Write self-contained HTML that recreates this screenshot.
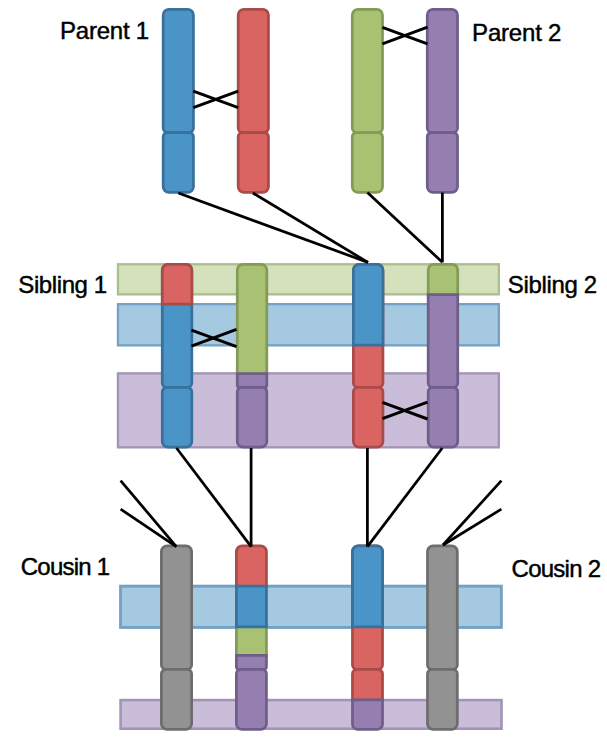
<!DOCTYPE html>
<html><head><meta charset="utf-8">
<style>
html,body{margin:0;padding:0;background:#fff;}
body{width:607px;height:740px;position:relative;overflow:hidden;}
svg{position:absolute;left:0;top:0;}
.t{position:absolute;font-family:"Liberation Sans",sans-serif;font-size:24px;color:#000;white-space:nowrap;line-height:1;-webkit-text-stroke:0.45px #000;}
</style></head><body>
<svg width="607" height="740" viewBox="0 0 607 740">
<rect x="117.95" y="264.25" width="380.90" height="30.10" fill="#D4E1BC" stroke="#AABF8B" stroke-width="2.3"/>
<rect x="117.95" y="304.15" width="380.90" height="41.20" fill="#A6C9E2" stroke="#74A1C4" stroke-width="2.3"/>
<rect x="117.95" y="373.35" width="380.90" height="74.00" fill="#CABDD9" stroke="#A393B6" stroke-width="2.3"/>
<rect x="120.55" y="586.15" width="380.80" height="41.30" fill="#A6C9E2" stroke="#74A1C4" stroke-width="2.9"/>
<rect x="120.60" y="700.10" width="380.90" height="28.60" fill="#CABDD9" stroke="#A393B6" stroke-width="2.6"/>
<path d="M163.18,15.12 A5.75,5.75 0 0 1 168.93,9.38 L187.68,9.38 A5.75,5.75 0 0 1 193.43,15.12 L193.43,128.20 A4.30,4.30 0 0 1 189.12,132.50 L167.48,132.50 A4.30,4.30 0 0 1 163.18,128.20 Z" fill="#4B94C7" stroke="#37719C" stroke-width="2.75"/>
<path d="M163.18,136.80 A4.30,4.30 0 0 1 167.48,132.50 L189.12,132.50 A4.30,4.30 0 0 1 193.43,136.80 L193.43,186.68 A5.75,5.75 0 0 1 187.68,192.43 L168.93,192.43 A5.75,5.75 0 0 1 163.18,186.68 Z" fill="#4B94C7" stroke="#37719C" stroke-width="2.75"/>
<path d="M238.18,15.12 A5.75,5.75 0 0 1 243.93,9.38 L262.68,9.38 A5.75,5.75 0 0 1 268.43,15.12 L268.43,128.20 A4.30,4.30 0 0 1 264.12,132.50 L242.48,132.50 A4.30,4.30 0 0 1 238.18,128.20 Z" fill="#DA6461" stroke="#A94B49" stroke-width="2.75"/>
<path d="M238.18,136.80 A4.30,4.30 0 0 1 242.48,132.50 L264.12,132.50 A4.30,4.30 0 0 1 268.43,136.80 L268.43,186.68 A5.75,5.75 0 0 1 262.68,192.43 L243.93,192.43 A5.75,5.75 0 0 1 238.18,186.68 Z" fill="#DA6461" stroke="#A94B49" stroke-width="2.75"/>
<path d="M352.27,15.12 A5.75,5.75 0 0 1 358.02,9.38 L376.77,9.38 A5.75,5.75 0 0 1 382.52,15.12 L382.52,128.20 A4.30,4.30 0 0 1 378.22,132.50 L356.57,132.50 A4.30,4.30 0 0 1 352.27,128.20 Z" fill="#A8C173" stroke="#849B57" stroke-width="2.75"/>
<path d="M352.27,136.80 A4.30,4.30 0 0 1 356.57,132.50 L378.22,132.50 A4.30,4.30 0 0 1 382.52,136.80 L382.52,186.68 A5.75,5.75 0 0 1 376.77,192.43 L358.02,192.43 A5.75,5.75 0 0 1 352.27,186.68 Z" fill="#A8C173" stroke="#849B57" stroke-width="2.75"/>
<path d="M427.27,15.12 A5.75,5.75 0 0 1 433.02,9.38 L451.77,9.38 A5.75,5.75 0 0 1 457.52,15.12 L457.52,128.20 A4.30,4.30 0 0 1 453.22,132.50 L431.57,132.50 A4.30,4.30 0 0 1 427.27,128.20 Z" fill="#957EB0" stroke="#6F5E8A" stroke-width="2.75"/>
<path d="M427.27,136.80 A4.30,4.30 0 0 1 431.57,132.50 L453.22,132.50 A4.30,4.30 0 0 1 457.52,136.80 L457.52,186.68 A5.75,5.75 0 0 1 451.77,192.43 L433.02,192.43 A5.75,5.75 0 0 1 427.27,186.68 Z" fill="#957EB0" stroke="#6F5E8A" stroke-width="2.75"/>
<path d="M162.28,270.12 A5.75,5.75 0 0 1 168.03,264.38 L186.07,264.38 A5.75,5.75 0 0 1 191.82,270.12 L191.82,383.10 A4.30,4.30 0 0 1 187.52,387.40 L166.58,387.40 A4.30,4.30 0 0 1 162.28,383.10 Z" fill="#4B94C7" stroke="#37719C" stroke-width="2.75"/>
<path d="M162.28,270.12 A5.75,5.75 0 0 1 168.03,264.38 L186.07,264.38 A5.75,5.75 0 0 1 191.82,270.12 L191.82,304.02 L162.28,304.02 Z" fill="#DA6461" stroke="#A94B49" stroke-width="2.75"/>
<path d="M162.28,391.70 A4.30,4.30 0 0 1 166.58,387.40 L187.52,387.40 A4.30,4.30 0 0 1 191.82,391.70 L191.82,441.48 A5.75,5.75 0 0 1 186.07,447.23 L168.03,447.23 A5.75,5.75 0 0 1 162.28,441.48 Z" fill="#4B94C7" stroke="#37719C" stroke-width="2.75"/>
<path d="M237.28,270.12 A5.75,5.75 0 0 1 243.03,264.38 L261.07,264.38 A5.75,5.75 0 0 1 266.82,270.12 L266.82,374.12 L237.28,374.12 Z" fill="#A8C173" stroke="#849B57" stroke-width="2.75"/>
<path d="M237.28,373.68 L266.82,373.68 L266.82,384.93 A2.47,2.47 0 0 1 264.35,387.40 L239.75,387.40 A2.47,2.47 0 0 1 237.28,384.93 Z" fill="#957EB0" stroke="#6F5E8A" stroke-width="2.75"/>
<path d="M237.28,391.70 A4.30,4.30 0 0 1 241.58,387.40 L262.52,387.40 A4.30,4.30 0 0 1 266.82,391.70 L266.82,441.48 A5.75,5.75 0 0 1 261.07,447.23 L243.03,447.23 A5.75,5.75 0 0 1 237.28,441.48 Z" fill="#957EB0" stroke="#6F5E8A" stroke-width="2.75"/>
<path d="M353.38,270.12 A5.75,5.75 0 0 1 359.12,264.38 L377.18,264.38 A5.75,5.75 0 0 1 382.93,270.12 L382.93,383.10 A4.30,4.30 0 0 1 378.62,387.40 L357.68,387.40 A4.30,4.30 0 0 1 353.38,383.10 Z" fill="#DA6461" stroke="#A94B49" stroke-width="2.75"/>
<path d="M353.38,270.12 A5.75,5.75 0 0 1 359.12,264.38 L377.18,264.38 A5.75,5.75 0 0 1 382.93,270.12 L382.93,345.02 L353.38,345.02 Z" fill="#4B94C7" stroke="#37719C" stroke-width="2.75"/>
<path d="M353.38,391.70 A4.30,4.30 0 0 1 357.68,387.40 L378.62,387.40 A4.30,4.30 0 0 1 382.93,391.70 L382.93,441.48 A5.75,5.75 0 0 1 377.18,447.23 L359.12,447.23 A5.75,5.75 0 0 1 353.38,441.48 Z" fill="#DA6461" stroke="#A94B49" stroke-width="2.75"/>
<path d="M428.18,269.91 A5.54,5.54 0 0 1 433.71,264.38 L452.19,264.38 A5.54,5.54 0 0 1 457.73,269.91 L457.73,295.12 L428.18,295.12 Z" fill="#A8C173" stroke="#849B57" stroke-width="2.75"/>
<path d="M428.18,294.68 L457.73,294.68 L457.73,383.10 A4.30,4.30 0 0 1 453.43,387.40 L432.48,387.40 A4.30,4.30 0 0 1 428.18,383.10 Z" fill="#957EB0" stroke="#6F5E8A" stroke-width="2.75"/>
<path d="M428.18,391.70 A4.30,4.30 0 0 1 432.48,387.40 L453.43,387.40 A4.30,4.30 0 0 1 457.73,391.70 L457.73,441.48 A5.75,5.75 0 0 1 451.98,447.23 L433.93,447.23 A5.75,5.75 0 0 1 428.18,441.48 Z" fill="#957EB0" stroke="#6F5E8A" stroke-width="2.75"/>
<path d="M161.38,551.52 A5.75,5.75 0 0 1 167.12,545.77 L185.88,545.77 A5.75,5.75 0 0 1 191.62,551.52 L191.62,665.10 A4.30,4.30 0 0 1 187.32,669.40 L165.68,669.40 A4.30,4.30 0 0 1 161.38,665.10 Z" fill="#929292" stroke="#6D6D6D" stroke-width="2.75"/>
<path d="M161.38,673.70 A4.30,4.30 0 0 1 165.68,669.40 L187.32,669.40 A4.30,4.30 0 0 1 191.62,673.70 L191.62,723.67 A5.75,5.75 0 0 1 185.88,729.42 L167.12,729.42 A5.75,5.75 0 0 1 161.38,723.67 Z" fill="#929292" stroke="#6D6D6D" stroke-width="2.75"/>
<path d="M236.38,551.52 A5.75,5.75 0 0 1 242.12,545.77 L260.68,545.77 A5.75,5.75 0 0 1 266.43,551.52 L266.43,586.62 L236.38,586.62 Z" fill="#DA6461" stroke="#A94B49" stroke-width="2.75"/>
<path d="M236.38,621.38 L266.43,621.38 L266.43,655.62 L236.38,655.62 Z" fill="#A8C173" stroke="#849B57" stroke-width="2.75"/>
<path d="M236.38,586.17 L266.43,586.17 L266.43,626.92 L236.38,626.92 Z" fill="#4B94C7" stroke="#37719C" stroke-width="2.75"/>
<path d="M236.38,655.38 L266.43,655.38 L266.43,666.88 A2.52,2.52 0 0 1 263.90,669.40 L238.90,669.40 A2.52,2.52 0 0 1 236.38,666.88 Z" fill="#957EB0" stroke="#6F5E8A" stroke-width="2.75"/>
<path d="M236.38,673.70 A4.30,4.30 0 0 1 240.68,669.40 L262.12,669.40 A4.30,4.30 0 0 1 266.43,673.70 L266.43,723.67 A5.75,5.75 0 0 1 260.68,729.42 L242.12,729.42 A5.75,5.75 0 0 1 236.38,723.67 Z" fill="#957EB0" stroke="#6F5E8A" stroke-width="2.75"/>
<path d="M352.48,551.52 A5.75,5.75 0 0 1 358.23,545.77 L376.77,545.77 A5.75,5.75 0 0 1 382.52,551.52 L382.52,665.10 A4.30,4.30 0 0 1 378.22,669.40 L356.78,669.40 A4.30,4.30 0 0 1 352.48,665.10 Z" fill="#DA6461" stroke="#A94B49" stroke-width="2.75"/>
<path d="M352.48,551.52 A5.75,5.75 0 0 1 358.23,545.77 L376.77,545.77 A5.75,5.75 0 0 1 382.52,551.52 L382.52,626.92 L352.48,626.92 Z" fill="#4B94C7" stroke="#37719C" stroke-width="2.75"/>
<path d="M352.48,673.70 A4.30,4.30 0 0 1 356.78,669.40 L378.22,669.40 A4.30,4.30 0 0 1 382.52,673.70 L382.52,700.12 L352.48,700.12 Z" fill="#DA6461" stroke="#A94B49" stroke-width="2.75"/>
<path d="M352.48,699.98 L382.52,699.98 L382.52,724.12 A5.30,5.30 0 0 1 377.22,729.42 L357.78,729.42 A5.30,5.30 0 0 1 352.48,724.12 Z" fill="#957EB0" stroke="#6F5E8A" stroke-width="2.75"/>
<path d="M427.48,551.52 A5.75,5.75 0 0 1 433.23,545.77 L451.57,545.77 A5.75,5.75 0 0 1 457.32,551.52 L457.32,665.10 A4.30,4.30 0 0 1 453.02,669.40 L431.78,669.40 A4.30,4.30 0 0 1 427.48,665.10 Z" fill="#929292" stroke="#6D6D6D" stroke-width="2.75"/>
<path d="M427.48,673.70 A4.30,4.30 0 0 1 431.78,669.40 L453.02,669.40 A4.30,4.30 0 0 1 457.32,673.70 L457.32,723.67 A5.75,5.75 0 0 1 451.57,729.42 L433.23,729.42 A5.75,5.75 0 0 1 427.48,723.67 Z" fill="#929292" stroke="#6D6D6D" stroke-width="2.75"/>
<line x1="193.3" y1="91.2" x2="238.2" y2="107.7" stroke="#000" stroke-width="3.0"/>
<line x1="193.3" y1="107.7" x2="238.2" y2="91.2" stroke="#000" stroke-width="3.0"/>
<line x1="382.4" y1="27.3" x2="427.5" y2="43.8" stroke="#000" stroke-width="3.0"/>
<line x1="382.4" y1="43.8" x2="427.5" y2="27.2" stroke="#000" stroke-width="3.0"/>
<line x1="178.3" y1="193" x2="368" y2="262.4" stroke="#000" stroke-width="2.75"/>
<line x1="252.8" y1="193" x2="368" y2="262.4" stroke="#000" stroke-width="2.75"/>
<line x1="367.4" y1="192.5" x2="442.4" y2="262.3" stroke="#000" stroke-width="2.75"/>
<line x1="442.4" y1="192.5" x2="442.4" y2="262.3" stroke="#000" stroke-width="2.75"/>
<line x1="191.4" y1="330.1" x2="236.5" y2="346.7" stroke="#000" stroke-width="3.0"/>
<line x1="191.4" y1="346.2" x2="236.5" y2="329.4" stroke="#000" stroke-width="3.0"/>
<line x1="382.4" y1="402.4" x2="427.5" y2="419.0" stroke="#000" stroke-width="3.0"/>
<line x1="382.4" y1="418.7" x2="427.5" y2="402.1" stroke="#000" stroke-width="3.0"/>
<line x1="176.5" y1="448" x2="251.1" y2="546.6" stroke="#000" stroke-width="2.75"/>
<line x1="251.1" y1="448" x2="251.1" y2="546.6" stroke="#000" stroke-width="2.75"/>
<line x1="367.4" y1="448" x2="367.4" y2="546.6" stroke="#000" stroke-width="2.75"/>
<line x1="442.3" y1="448" x2="367.4" y2="546.6" stroke="#000" stroke-width="2.75"/>
<line x1="120.6" y1="480.6" x2="176.3" y2="546.6" stroke="#000" stroke-width="2.75"/>
<line x1="120.6" y1="509.2" x2="176.3" y2="546.6" stroke="#000" stroke-width="2.75"/>
<line x1="501.4" y1="480.6" x2="443" y2="545" stroke="#000" stroke-width="2.75"/>
<line x1="501.4" y1="509.2" x2="443" y2="545" stroke="#000" stroke-width="2.75"/>
</svg>
<div class="t" style="left:60px;top:19.2px;letter-spacing:-0.22px">Parent 1</div>
<div class="t" style="left:472.1px;top:21.1px;letter-spacing:-0.2px">Parent 2</div>
<div class="t" style="left:18.3px;top:273.1px;letter-spacing:-0.4px">Sibling 1</div>
<div class="t" style="left:507.8px;top:273.2px;letter-spacing:-0.35px">Sibling 2</div>
<div class="t" style="left:20.8px;top:555.2px;letter-spacing:-0.77px">Cousin 1</div>
<div class="t" style="left:511.6px;top:557.2px;letter-spacing:-0.75px">Cousin 2</div>
</body></html>
